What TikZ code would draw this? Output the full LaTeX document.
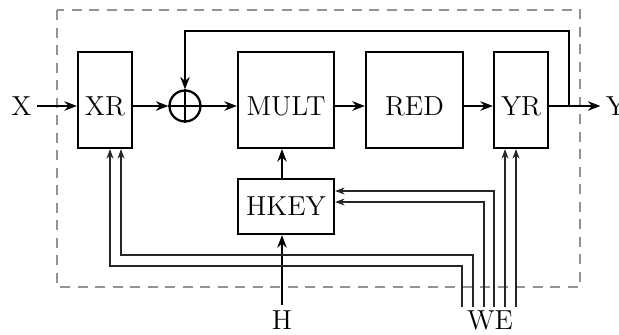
\documentclass[tikz,border=0pt]{standalone}
\usetikzlibrary{arrows.meta}

\begin{document}
\begin{tikzpicture}[x=0.4pt, y=-0.4pt,
  every node/.style={font=\fontsize{11}{12}\selectfont},
  blk/.style={draw, line width=0.9pt, inner sep=0pt, text height=12.3pt, text depth=0pt, minimum height=38.4pt},
  keyblk/.style={draw, line width=0.9pt, inner sep=0pt, minimum width=38.4pt, minimum height=22pt},
  io/.style={inner sep=2pt},
  sig/.style={-{Stealth[length=5pt,width=3.8pt]}, line width=0.7pt},
  wire/.style={-{Stealth[length=3.8pt,width=2.8pt]}, line width=0.45pt, black!85}]
\useasboundingbox (0,0) rectangle (619,334);

% Dashed frame
\draw[gray!85, line width=0.45pt, dash pattern=on 4pt off 3pt] (57,10) rectangle (580,287);

% Blocks
\node[blk, minimum width=21.6pt] (XR) at (105,100) {XR};
\node[draw, circle, line width=0.9pt, minimum size=12.4pt, inner sep=0pt] (sum) at (185,106) {};
\draw[line width=0.9pt] (sum.north) -- (sum.south) (sum.west) -- (sum.east);
\node[blk, minimum width=38.4pt] (MULT) at (286,100) {MULT};
\node[blk, minimum width=38.8pt] (RED) at (414.5,100) {RED};
\node[blk, minimum width=21.6pt] (YR) at (521,100) {YR};
\node[keyblk] (HKEY) at (286,206.5) {HKEY};

% Inputs and outputs
\node[io] (X) at (21.5,106) {X};
\node[io] (Y) at (616,106) {Y};
\node[io] (H) at (282,320) {H};
\node[io] (WE) at (490,320) {WE};

% Data path
\draw[sig] (X) -- (X -| XR.west);
\draw[sig] (XR.east |- sum) -- (sum);
\draw[sig] (sum) -- (sum -| MULT.west);
\draw[sig, line width=0.95pt] (MULT.east |- sum) -- (RED.west |- sum);
\draw[sig] (RED.east |- sum) -- (YR.west |- sum);
\draw[sig] (YR.east |- sum) -- (Y);

% Feedback into the adder
\coordinate (tap) at (569,106);
\coordinate (top) at (569,31);
\draw[sig, line width=0.6pt] (tap) -- (top) -| (sum.north);

% Hash key
\draw[sig] (H) -- (H |- HKEY.south);
\draw[sig] (HKEY.north -| H) -- (MULT.south -| H);

% Write enables
\coordinate (w1) at (462,307);
\coordinate (w2) at (473,307);
\coordinate (w3) at (484,307);
\coordinate (w4) at (494,307);
\coordinate (w5) at (505,307);
\coordinate (w6) at (516,307);
\coordinate (xa) at (110,266);
\coordinate (xb) at (121,255);
\draw[wire] (w1) |- (xa) -- (xa |- XR.south);
\draw[wire] (w2) |- (xb) -- (xb |- XR.south);
\draw[wire] (w3) |- (HKEY.east |- 0,202);
\draw[wire] (w4) |- (HKEY.east |- 0,191);
\draw[wire] (w5) -- (w5 |- YR.south);
\draw[wire] (w6) -- (w6 |- YR.south);

\end{tikzpicture}
\end{document}
